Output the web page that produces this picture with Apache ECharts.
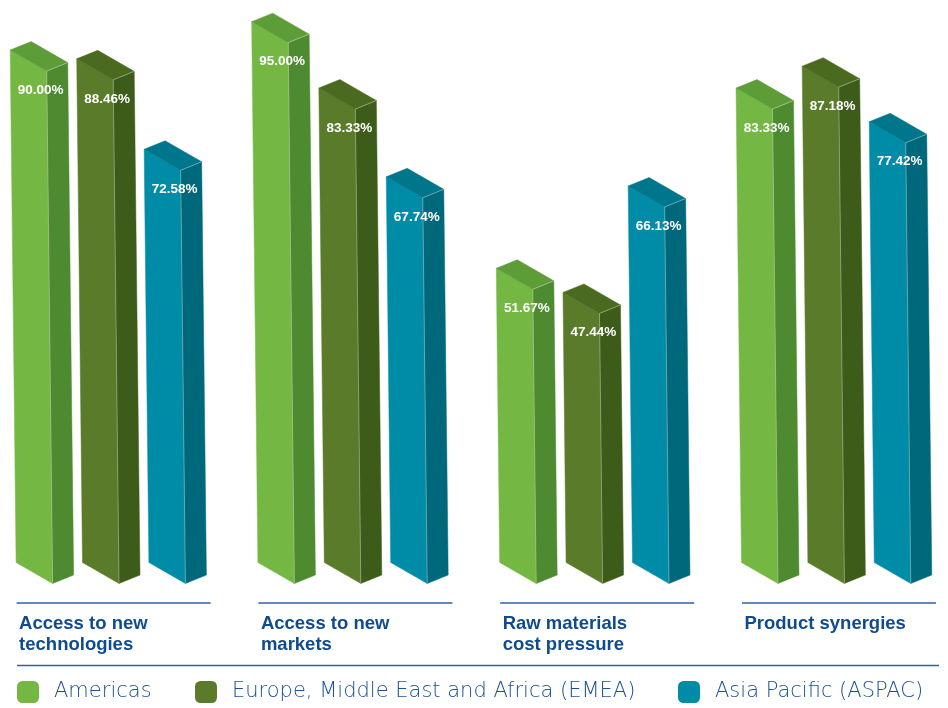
<!DOCTYPE html>
<html>
<head>
<meta charset="utf-8">
<script src="https://cdn.jsdelivr.net/npm/echarts@6/dist/echarts.min.js"></script>
<style>
  html, body { margin: 0; padding: 0; background: #ffffff; }
  #chart { width: 948px; height: 708px; }
</style>
</head>
<body>
<div id="chart"></div>
<script>
// Reasons for M&A activity, share of respondents by region
const categories = ['Access to new\ntechnologies', 'Access to new\nmarkets', 'Raw materials\ncost pressure', 'Product synergies'];
const seriesNames = ['Americas', 'Europe, Middle East and Africa (EMEA)', 'Asia Pacific (ASPAC)'];
const americas = [90.00, 95.00, 51.67, 83.33];
const emea = [88.46, 83.33, 47.44, 87.18];
const aspac = [72.58, 67.74, 66.13, 77.42];

// Face colours of each prism: front, top, side
const faces = [
  { front: '#74b843', top: '#5e9c38', side: '#4d8a30' },
  { front: '#5a7b29', top: '#4a6a20', side: '#3e5c19' },
  { front: '#008ca6', top: '#00768c', side: '#00687b' }
];

// Prism geometry (pixels)
const SLOT_STEP = 66.4;   // distance between bars within a group
const FRONT_W = 36.5;     // width of the front face
const FRONT_DROP = 21;    // front face top/bottom edges slope down to the right
const DEPTH_X = 21;       // receding depth, horizontal
const DEPTH_Y = -8.5;     // receding depth, vertical
const LEAN = 0.0115;      // slight perspective lean of the verticals

// The x axis is a linear index axis: group i starts at x = i
function prismRenderer(slot) {
  const f = faces[slot];
  return function (params, api) {
    const cat = api.value(0);
    const val = api.value(1);
    const top = api.coord([cat, val]);
    const base = api.coord([cat, 0]);
    const xB = base[0] + slot * SLOT_STEP;
    const yB = base[1];
    const yT = top[1];
    const xT = xB - LEAN * (yB - yT);
    const TL = [xT, yT];
    const TR = [xT + FRONT_W, yT + FRONT_DROP];
    const BR = [xB + FRONT_W, yB + FRONT_DROP];
    const BL = [xB, yB];
    const TL2 = [TL[0] + DEPTH_X, TL[1] + DEPTH_Y];
    const TR2 = [TR[0] + DEPTH_X, TR[1] + DEPTH_Y];
    const BR2 = [BR[0] + DEPTH_X, BR[1] + DEPTH_Y];
    return {
      type: 'group',
      children: [
        { type: 'polygon', shape: { points: [TL, TR, BR, BL] }, style: { fill: f.front, stroke: f.front, lineWidth: 0.5 } },
        { type: 'polygon', shape: { points: [TR, TR2, BR2, BR] }, style: { fill: f.side, stroke: f.side, lineWidth: 0.5 } },
        { type: 'polygon', shape: { points: [TL, TL2, TR2, TR] }, style: { fill: f.top, stroke: f.top, lineWidth: 0.5 } },
        { type: 'polyline', shape: { points: [BR, TR, TR2] }, style: { stroke: 'rgba(255,255,255,0.35)', lineWidth: 1, fill: null } },
        {
          type: 'text', x: xT + 30.5, y: yT + 40,
          style: {
            text: val.toFixed(2) + '%', fill: '#ffffff',
            font: 'bold 13.5px "Liberation Sans", Arial, sans-serif',
            align: 'center', verticalAlign: 'middle'
          }
        }
      ]
    };
  };
}

function categoryRenderer(params, api) {
  const i = api.value(0);
  const base = api.coord([i, 0]);
  const x0 = base[0] + 0.5;
  const y0 = base[1] + 40.5;
  return {
    type: 'group',
    children: [
      { type: 'line', shape: { x1: x0, y1: y0, x2: x0 + 194, y2: y0 }, style: { stroke: '#2d63a4', lineWidth: 1.5 } },
      {
        type: 'text', x: x0 + 2.5, y: y0 + 10,
        style: {
          text: categories[i], fill: '#0e4b91',
          font: 'bold 18.5px "Liberation Sans", Arial, sans-serif',
          lineHeight: 21, align: 'left', verticalAlign: 'top'
        }
      }
    ]
  };
}

const regionValues = [americas, emea, aspac];
const legendLeft = [17, 195, 678];

const chart = echarts.init(document.getElementById('chart'), null, { renderer: 'canvas' });
chart.setOption({
  backgroundColor: '#ffffff',
  animation: false,
  color: faces.map(f => f.front),
  grid: { left: 16.1, top: 0, right: 1, height: 562.5 },
  xAxis: { type: 'value', min: 0, max: 3.85, show: false },
  yAxis: { type: 'value', min: 0, max: 98.8, show: false },
  legend: seriesNames.map((name, j) => ({
    data: [name],
    left: legendLeft[j],
    top: 681,
    padding: 0,
    itemWidth: 22,
    itemHeight: 22,
    icon: 'roundRect',
    selectedMode: false,
    textStyle: {
      fontFamily: '"DejaVu Sans", sans-serif',
      fontSize: 21,
      fontWeight: 300,
      color: '#1d5196',
      padding: [6, 0, 0, 10]
    }
  })),
  graphic: [
    { type: 'line', shape: { x1: 17, y1: 665.5, x2: 939, y2: 665.5 }, style: { stroke: '#2d63a4', lineWidth: 1.5 } }
  ],
  series: regionValues.map((vals, j) => ({
    type: 'custom',
    name: seriesNames[j],
    itemStyle: { color: faces[j].front },
    renderItem: prismRenderer(j),
    data: vals.map((v, i) => [i, v])
  })).concat([{
    type: 'custom',
    name: 'categories',
    silent: true,
    renderItem: categoryRenderer,
    data: categories.map((c, i) => [i, 0])
  }])
});
</script>
</body>
</html>
